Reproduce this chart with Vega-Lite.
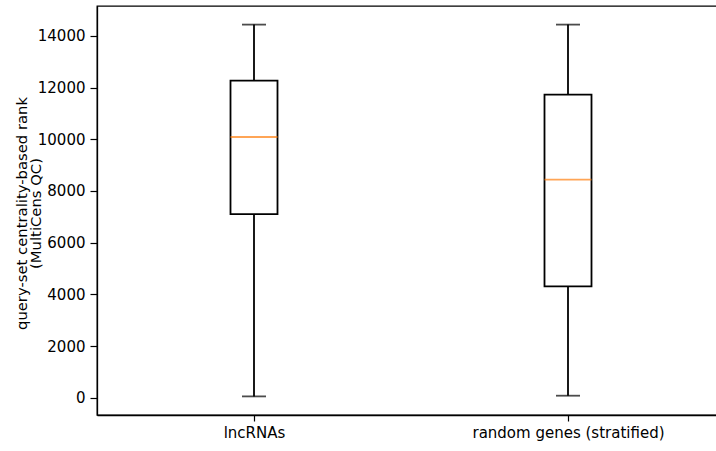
{
  "$schema": "https://vega.github.io/schema/vega-lite/v6.json",
  "autosize": "none",
  "width": 628,
  "height": 409,
  "padding": {"left": 97, "top": 6, "right": 0, "bottom": 36},
  "background": "white",
  "data": {"values": [
    {"group": "lncRNAs", "lo": 50, "q1": 7108, "med": 10089, "q3": 12272, "hi": 14440},
    {"group": "random genes (stratified)", "lo": 77, "q1": 4309, "med": 8440, "q3": 11730, "hi": 14440}
  ]},
  "encoding": {
    "x": {"field": "group", "type": "nominal", "sort": null,
      "scale": {"type": "point", "padding": 0.5},
      "axis": {"title": null, "labelAngle": 0, "labelFontSize": 15, "labelColor": "black", "labelLimit": 500,
        "tickSize": 6, "tickColor": "black", "tickWidth": 1.2, "domainColor": "black", "domainWidth": 1.3, "labelPadding": 4, "grid": false}}
  },
  "layer": [
    {"mark": {"type": "rule", "color": "black", "strokeWidth": 1.8},
     "encoding": {
       "y": {"field": "lo", "type": "quantitative",
         "scale": {"domain": [-670, 15160], "nice": false, "zero": false},
         "axis": {"values": [0, 2000, 4000, 6000, 8000, 10000, 12000, 14000], "format": "d",
           "title": ["query-set centrality-based rank", "(MultiCens QC)"],
           "titleFontSize": 14.8, "titleFontWeight": "normal", "titleColor": "black",
           "titleLineHeight": 14, "titleX": -68, "titleY": 207, "titleAngle": 270, "titleBaseline": "bottom", "titleAlign": "center",
           "labelFontSize": 15, "labelColor": "black", "labelPadding": 5,
           "tickSize": 7, "tickColor": "black", "tickWidth": 1.2, "domainColor": "black", "domainWidth": 1.3, "grid": false}},
       "y2": {"field": "hi"}
     }},
    {"mark": {"type": "bar", "width": 47, "fill": "white", "stroke": "black", "strokeWidth": 1.8},
     "encoding": {"y": {"field": "q1", "type": "quantitative"}, "y2": {"field": "q3"}}},
    {"mark": {"type": "tick", "color": "black", "size": 24, "thickness": 1.8, "orient": "horizontal"},
     "encoding": {"y": {"field": "lo", "type": "quantitative"}}},
    {"mark": {"type": "tick", "color": "black", "size": 24, "thickness": 1.8, "orient": "horizontal"},
     "encoding": {"y": {"field": "hi", "type": "quantitative"}}},
    {"mark": {"type": "tick", "color": "#ff7f0e", "size": 47, "thickness": 1.8, "orient": "horizontal"},
     "encoding": {"y": {"field": "med", "type": "quantitative"}}}
  ],
  "config": {"font": "DejaVu Sans", "view": {"stroke": "black", "strokeWidth": 1.3}}
}
